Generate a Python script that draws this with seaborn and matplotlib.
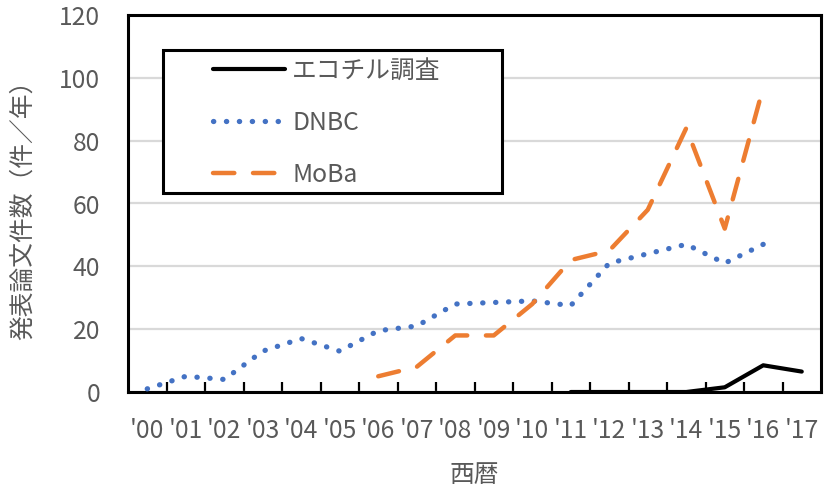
"""Publications per year for three birth cohort studies (エコチル調査, DNBC, MoBa)."""

import matplotlib.pyplot as plt
import pandas as pd
import seaborn as sns
from matplotlib.patches import Rectangle

years = ["'00", "'01", "'02", "'03", "'04", "'05", "'06", "'07", "'08",
         "'09", "'10", "'11", "'12", "'13", "'14", "'15", "'16", "'17"]

echo_years = ["'11", "'12", "'13", "'14", "'15", "'16", "'17"]
echo_vals = [0, 0, 0, 0, 1.5, 8.5, 6.5]

dnbc_years = years[:17]
dnbc_vals = [1, 5, 4, 13, 17, 13, 19.5, 21, 28, 28.5, 29, 27.5, 41, 44, 47, 41, 47]

moba_years = ["'06", "'07", "'08", "'09", "'10", "'11", "'12", "'13", "'14", "'15", "'16"]
moba_vals = [5, 8, 18, 18, 28, 42, 45, 58, 84, 52, 97]

series_names = ["エコチル調査", "DNBC", "MoBa"]

GRAY = "#595959"
FS = 17.8


def to_frame(yrs, vals):
    return pd.DataFrame({"x": [years.index(y) for y in yrs], "y": vals})


sns.set_theme(style="white")
plt.rcParams["font.family"] = ["Noto Sans CJK JP", "DejaVu Sans"]

fig = plt.figure(figsize=(8.24, 4.9), dpi=100)
ax = fig.add_axes([128 / 824, 1 - 392 / 490, (821 - 128) / 824, (392 - 15) / 490])

sns.lineplot(data=to_frame(echo_years, echo_vals), x="x", y="y", ax=ax,
             color="black", linewidth=3, estimator=None, sort=False,
             label=series_names[0], zorder=3)
sns.lineplot(data=to_frame(dnbc_years, dnbc_vals), x="x", y="y", ax=ax,
             color="#4472C4", linewidth=3.8, estimator=None, sort=False,
             label=series_names[1], zorder=3)
sns.lineplot(data=to_frame(moba_years, moba_vals), x="x", y="y", ax=ax,
             color="#ED7D31", linewidth=3.2, estimator=None, sort=False,
             label=series_names[2], zorder=3)

lines = ax.get_lines()
lines[1].set_linestyle((0, (0.05, 2.4)))
lines[1].set_dash_capstyle("round")
lines[2].set_linestyle((0, (4.8, 4.2)))
lines[2].set_dash_capstyle("round")

ax.set_xlim(-0.5, len(years) - 0.5)
ax.set_ylim(0, 120)
ax.set_yticks(range(0, 121, 20))
ax.set_xticks(range(len(years)))
ax.set_xticklabels(years)
ax.set_xticks([i + 0.5 for i in range(len(years) - 1)], minor=True)

ax.tick_params(axis="x", which="major", length=0, pad=19, labelsize=FS, labelcolor=GRAY)
ax.tick_params(axis="x", which="minor", direction="in", length=7, width=1.6,
               color="black", bottom=True)
ax.tick_params(axis="y", length=0, pad=20, labelsize=FS, labelcolor=GRAY)

ax.grid(axis="y", color="#d9d9d9", linewidth=1.6)
ax.set_axisbelow(True)
for side in ["left", "right", "top", "bottom"]:
    ax.spines[side].set_visible(True)
    ax.spines[side].set_color("black")
    ax.spines[side].set_linewidth(2.2)

ax.set_xlabel("西暦", fontsize=FS, color=GRAY, labelpad=13)
ax.set_ylabel("発表論文件数（件／年）", fontsize=FS, color=GRAY, labelpad=17)

# legend box drawn separately so the frame can be wider than the entries
box = Rectangle((163 / 824, 1 - 193 / 490), 339 / 824, 143 / 490,
                transform=fig.transFigure, facecolor="white", edgecolor="black",
                linewidth=2.2, zorder=4)
ax.add_artist(box)
box.set_clip_on(False)
leg = ax.legend(loc="upper left", bbox_to_anchor=(213 / 824, 1 - 58 / 490),
                bbox_transform=fig.transFigure, frameon=False, fontsize=FS,
                handlelength=2.9, handletextpad=0.3, labelspacing=1.05,
                borderpad=0, borderaxespad=0)
leg.set_zorder(5)
for text in leg.get_texts():
    text.set_color(GRAY)

fig.savefig("out.png", dpi=100)
